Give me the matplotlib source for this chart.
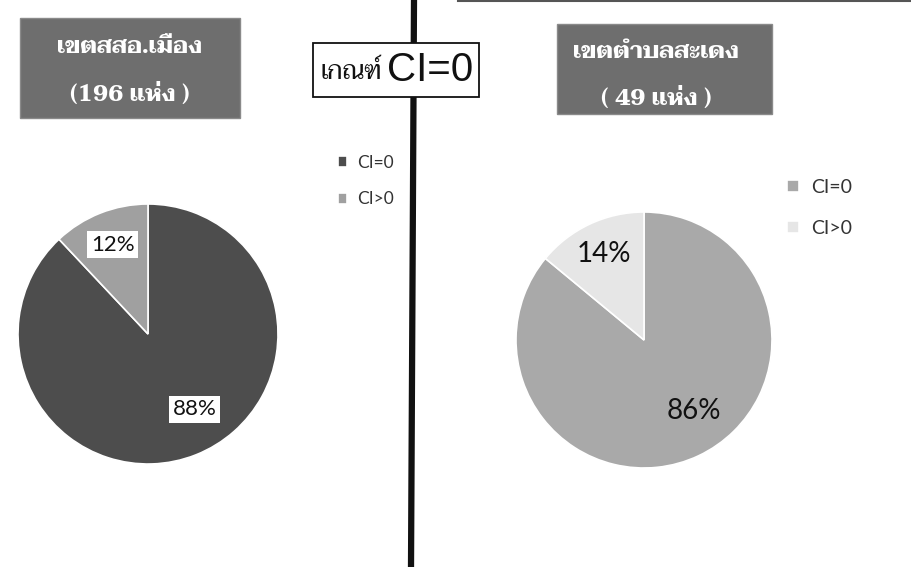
import numpy as np
import matplotlib
matplotlib.use("Agg")
import matplotlib.pyplot as plt
from matplotlib.patches import Rectangle
from matplotlib.lines import Line2D

# data
labels = ['CI=0', 'CI>0']
left_values = [88, 12]
right_values = [86, 14]
left_title = ['เขตสสอ.เมือง', '(196 แห่ง )']
right_title = ['เขตตำบลสะเดง', '( 49 แห่ง )']
center_title = ['เกณฑ์', 'CI=0']

W, H = 912, 567
fig = plt.figure(figsize=(W / 100, H / 100), dpi=100)
fig.patch.set_facecolor('white')


def fx(px):
    return px / W


def fy(py):
    return 1 - py / H


def pie_axes(cx, cy, r):
    ax = fig.add_axes([fx(cx - r), fy(cy + r), 2 * r / W, 2 * r / H])
    return ax


def draw_pie(ax, values, colors, fsize, boxed):
    wedges, _ = ax.pie(values, colors=colors, startangle=90, counterclock=False,
                       radius=1, wedgeprops=dict(edgecolor='white', linewidth=1.2))
    ax.set_xlim(-1, 1)
    ax.set_ylim(-1, 1)
    ax.set_aspect('equal')
    ax.axis('off')
    for w, v in zip(wedges, values):
        mid = (w.theta1 + w.theta2) / 2
        if v > 50:
            mid += 10
            dist = 0.68
        else:
            dist = 0.74
        x = dist * np.cos(np.radians(mid))
        y = dist * np.sin(np.radians(mid))
        bbox = dict(boxstyle='square,pad=0.15', fc='white', ec='none') if boxed else None
        ax.text(x, y, f'{v}%', ha='center', va='center', fontsize=fsize,
                family='Lato', color='#111111', bbox=bbox)
    return wedges


# left pie
ax1 = pie_axes(148, 334, 130)
w1 = draw_pie(ax1, left_values, ['#4d4d4d', '#a0a0a0'], 16, True)
fig.legend(w1, labels, loc='center left', bbox_to_anchor=(fx(322), fy(181)),
           frameon=False, prop={'family': 'Lato', 'size': 12.5},
           handlelength=0.55, handleheight=0.55, handletextpad=0.6, labelspacing=1.2,
           labelcolor='#333333')

# right pie
ax2 = pie_axes(644, 340, 128)
w2 = draw_pie(ax2, right_values, ['#a9a9a9', '#e6e6e6'], 20, False)
fig.legend(w2, labels, loc='center left', bbox_to_anchor=(fx(770), fy(208)),
           frameon=False, prop={'family': 'Lato', 'size': 14},
           handlelength=0.6, handleheight=0.6, handletextpad=0.6, labelspacing=1.25,
           labelcolor='#333333')

# title boxes
for (x0, y0, x1, y1), lines, ys, xc in [((20, 18, 240, 118), left_title, (48, 95), 130),
                                         ((557, 24, 772, 114), right_title, (53, 99), 656)]:
    fig.add_artist(Rectangle((fx(x0), fy(y1)), (x1 - x0) / W, (y1 - y0) / H,
                             transform=fig.transFigure, fc='#6e6e6e', ec='#8a8a8a', lw=1))
    for txt, yy in zip(lines, ys):
        fig.text(fx(xc), fy(yy), txt, ha='center', va='center', color='white',
                 fontsize=17, fontweight='bold', family=['Taviraj', 'DejaVu Serif'])

# divider line and top edge
fig.add_artist(Line2D([fx(414), fx(411)], [1, 0], transform=fig.transFigure,
                      color='#111111', lw=4.5))
fig.add_artist(Line2D([fx(458), 1], [fy(1), fy(1)], transform=fig.transFigure,
                      color='#555555', lw=1.5))

# centre box
fig.add_artist(Rectangle((fx(313), fy(97)), (479 - 313) / W, (97 - 43) / H,
                         transform=fig.transFigure, fc='white', ec='#111111', lw=1.3, zorder=5))
fig.text(fx(321), fy(73), center_title[0], ha='left', va='center', fontsize=18.5,
         family=['Taviraj', 'DejaVu Sans'], color='#111111', zorder=6)
fig.text(fx(387), fy(70), center_title[1], ha='left', va='center', fontsize=29,
         family='Liberation Sans', color='#111111', zorder=6)

fig.savefig('out.png', dpi=100)
